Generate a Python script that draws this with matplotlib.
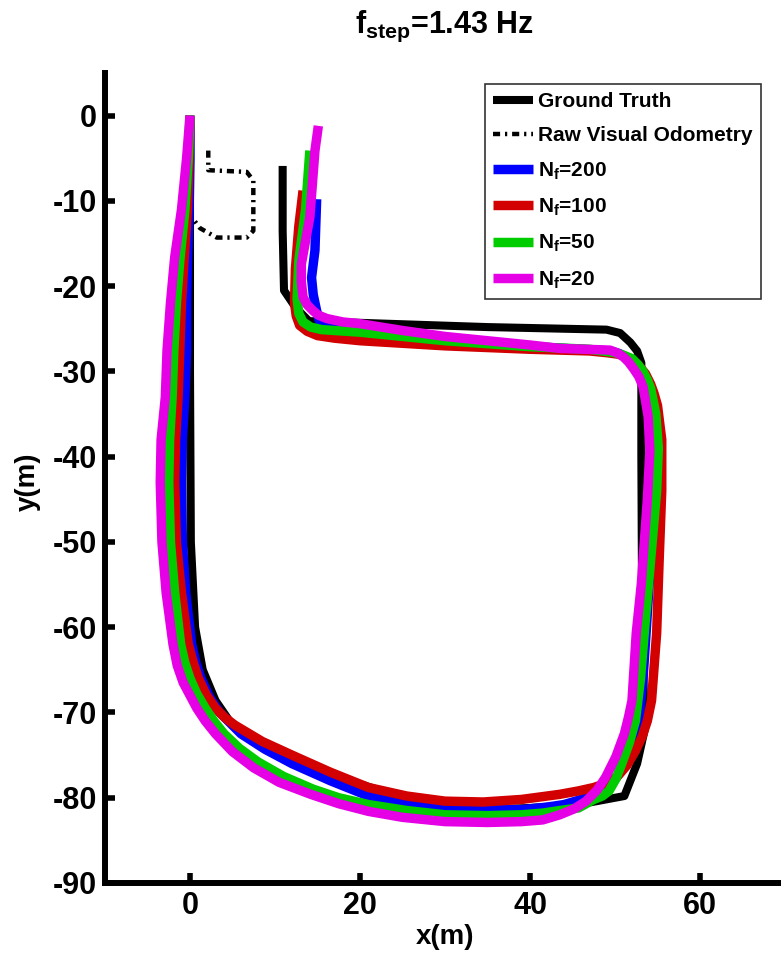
import matplotlib
matplotlib.use("Agg")
import matplotlib.pyplot as plt

plt.rcParams['font.family'] = ['Liberation Sans', 'DejaVu Sans']
plt.rcParams['font.weight'] = 'bold'
plt.rcParams['axes.unicode_minus'] = False
plt.rcParams['mathtext.fontset'] = 'custom'
plt.rcParams['mathtext.rm'] = 'Liberation Sans:bold'
plt.rcParams['mathtext.it'] = 'Liberation Sans:bold'
plt.rcParams['mathtext.bf'] = 'Liberation Sans:bold'

# ---------------- data ----------------
gt_x = [0, 0, 0.1, 0.6, 1.5, 3, 5, 7.5, 10.5, 14.2, 20, 25, 29, 34.5, 40, 45.7, 51.1, 52.6, 53.5,
        53.2, 53.1, 53.1, 52.6, 51.8, 50.6, 49, 35, 20, 14, 13.1, 12.15, 11.06, 10.9, 10.9]
gt_y = [0, -30, -50, -60, -65, -68.6, -71.5, -73.3, -75, -76.6, -78.4, -80, -81, -81.4, -81.2, -80.8,
        -79.8, -76, -72, -60, -40, -29, -27.6, -26.6, -25.5, -25.1, -24.8, -24.3, -24.1, -23.2, -22.1,
        -20.5, -13.5, -5.9]

vo_x = [2.15, 2.15, 6.67, 7.45, 7.45, 6.67, 3.14, 1.18, 0.2]
vo_y = [-4.1, -6.4, -6.6, -7.6, -13.5, -14.3, -14.3, -13.2, -11.9]

nf200_x = [0, 0, -0.1, -0.3, -0.4, -0.4, -0.6, -0.9, -1, -0.9, -0.5, 0.2, 0.7, 1.3, 2.3, 3.5, 6,
           8.8, 12, 16.5, 21, 25.5, 30, 35, 39, 42, 44, 45.7, 47, 48.4, 49.5, 50.6, 51.5, 52.3, 52.8,
           53.3, 53.7, 54.2, 54.8, 55, 54.6, 54, 53.5, 53, 52.3, 51.5, 50.5, 49.5, 44, 35, 28, 20,
           17.5, 16, 15.2, 14.9, 14.5, 14.3, 14.7, 14.9]
nf200_y = [0, -5, -11, -17, -22, -27.5, -33, -38, -43, -50, -56, -62, -64.2, -66, -68.2, -70, -72.5,
           -74.3, -76, -78, -79.8, -80.6, -81.2, -81.4, -81.4, -81.1, -80.8, -80.3, -79.8, -79.2,
           -78.5, -77, -75, -73, -71, -66, -60, -52, -44, -39, -35, -32, -31, -30, -29.1, -28.4,
           -27.9, -27.6, -27.3, -26.8, -26.2, -25.3, -24.9, -24.6, -24, -22.9, -21, -19, -15.8, -9.8]

nf100_x = [0, -0.1, -0.3, -0.7, -1, -1.2, -1.4, -1.7, -1.8, -1.6, -1, -0.2, 0.4, 1, 1.9, 3, 4.1,
           5.3, 8.5, 12, 16.5, 21, 25.5, 30, 34.5, 39, 43.5, 45.7, 47.5, 49, 50.2, 51.4, 52.4, 53.2,
           53.8, 54.3, 54.9, 55.2, 55.5, 55.5, 55, 54.6, 54.2, 53.6, 52.8, 51.8, 50.5, 49, 47, 40,
           30, 20, 17, 15, 13.8, 12.9, 12.5, 12.3, 12.4, 12.8, 13.3]
nf100_y = [0, -5, -11, -17, -22, -27.5, -33, -38, -43, -50, -56, -62, -64.2, -66, -67.9, -69.5,
           -70.6, -71.5, -73.4, -75, -77, -78.8, -79.8, -80.4, -80.5, -80.2, -79.6, -79.2, -78.8,
           -78.3, -77.6, -76.2, -74.5, -72.8, -71, -68.6, -60.7, -52, -44, -38, -34, -32.6, -31.5,
           -30.3, -29.3, -28.5, -28, -27.8, -27.6, -27.4, -27, -26.4, -26.1, -25.8, -25.3, -24.6,
           -23.5, -22, -18, -13, -8.8]

nf50_x = [0, -0.2, -0.6, -1.2, -1.6, -1.9, -2.1, -2.4, -2.5, -2.3, -1.8, -1.1, -0.6, 0, 0.8, 1.8,
          2.8, 4, 5.8, 8, 11, 14.5, 17.5, 21, 25.5, 30, 35, 39, 41.5, 43.5, 45.7, 47.5, 48.5, 49.3,
          50.1, 50.8, 51.7, 52.4, 53, 53.5, 54.2, 54.9, 55.1, 54.8, 54.2, 53.8, 53.3, 52.7, 52, 51,
          50, 47, 40, 30, 20, 17, 15.5, 14.2, 13.3, 12.8, 12.6, 12.8, 13.6, 14.1]
nf50_y = [0, -5, -11, -17, -22, -27.5, -33, -38, -43, -50, -56, -62, -64.2, -66, -67.8, -69.5, -71,
          -72.5, -74.2, -75.8, -77.5, -79, -80, -80.8, -81.5, -82, -82.1, -82, -81.8, -81.5, -81.2,
          -80.2, -79.8, -79.2, -77.8, -76, -73.5, -71, -66, -60, -52, -44, -39, -35, -32, -31,
          -30, -29.2, -28.5, -28.1, -27.8, -27.4, -27.1, -26.4, -25.4, -25.2, -25.1, -24.8, -24.2,
          -23.2, -21.5, -17, -11, -4.1]

nf20_x = [0, -0.4, -1, -1.8, -2.3, -2.7, -2.9, -3.4, -3.5, -3.3, -2.8, -2, -1.5, -0.8, 0, 0.8,
          1.8, 3, 5, 7.5, 10.5, 14.2, 17.5, 21, 25, 30, 35, 39, 41.5, 43.5, 45.2, 46.6, 47.9, 48.9,
          50.1, 51.1, 51.6, 52, 52.5, 53.1, 53.8, 54.1, 53.9, 53.6, 53.3, 52.8, 52.2, 51.6, 51, 50.2,
          49.4, 43.5, 40, 35, 30, 25, 20, 18, 16.1, 15.1, 14.5, 13.8, 13.3, 13.1, 13.1, 14.1,
          14.7, 15.1]
nf20_y = [0, -5, -11, -16.6, -22, -27.5, -33, -38, -43, -50, -56, -62, -64.5, -66.5, -68, -69.5,
          -71, -72.5, -74.6, -76.5, -78.2, -79.6, -80.7, -81.6, -82.3, -82.8, -82.9, -82.8, -82.6,
          -82, -81.3, -80.4, -79.1, -77.6, -75.2, -72.5, -70.5, -68.6, -60.7, -54.9, -45.1, -39.3,
          -35.3, -33.5, -31.8, -30.6, -29.7, -28.9, -28.3, -27.8, -27.5, -27.3, -26.9, -26.4,
          -25.9, -25.2, -24.4, -24.2, -23.8, -23.4, -22.9, -22.2, -21.3, -19.5, -17.4, -11.9,
          -4.1, -1.2]

labels = ['Ground Truth', 'Raw Visual Odometry', r'N$_\mathrm{f}$=200', r'N$_\mathrm{f}$=100',
          r'N$_\mathrm{f}$=50', r'N$_\mathrm{f}$=20']
title = r'f$_\mathrm{step}$=1.43 Hz'
xticks = [0, 20, 40, 60]
yticks = [0, -10, -20, -30, -40, -50, -60, -70, -80, -90]

# ---------------- figure ----------------
W, H = 781, 958
fig = plt.figure(figsize=(W / 100, H / 100), dpi=100)
ax = fig.add_axes([105 / W, 1 - 883 / H, (W - 105) / W, (883 - 73) / H])

kw = dict(solid_capstyle='butt', solid_joinstyle='round')
ax.plot(gt_x, gt_y, color='black', lw=5.8, label=labels[0], **kw)
ax.plot(vo_x, vo_y, color='black', lw=3.2, linestyle=(0, (1.6, 1.1, 0.5, 1.1)),
        label=labels[1], dash_capstyle='butt', dash_joinstyle='round')
ax.plot(nf200_x, nf200_y, color='#0000ff', lw=6.8, label=labels[2], **kw)
ax.plot(nf100_x, nf100_y, color='#d20000', lw=6.8, label=labels[3], **kw)
ax.plot(nf50_x, nf50_y, color='#00cc00', lw=6.8, label=labels[4], **kw)
ax.plot(nf20_x, nf20_y, color='#e600e6', lw=6.8, label=labels[5], **kw)

ax.set_xlim(-10, (W - 190) / 8.5)
ax.set_ylim(-90, 5)
ax.set_xticks(xticks)
ax.set_yticks(yticks)
for s in ['top', 'right']:
    ax.spines[s].set_visible(False)
for s in ['left', 'bottom']:
    ax.spines[s].set_linewidth(4.3)
ax.tick_params(direction='in', length=7, width=4, labelsize=22, pad=6)
for lab in ax.get_xticklabels() + ax.get_yticklabels():
    lab.set_fontweight('bold')

fig.text(445 / W, 1 - 937 / H, 'x(m)', ha='center', va='center', fontsize=20, fontweight='bold')
fig.text(28 / W, 1 - 482 / H, 'y(m)', ha='center', va='center', rotation=90, fontsize=20,
         fontweight='bold')
fig.text(445 / W, 1 - 26 / H, title, ha='center', va='center', fontsize=22, fontweight='bold')

leg = ax.legend(loc='upper right', bbox_to_anchor=(761 / W, 1 - 84 / H),
                bbox_transform=fig.transFigure, fontsize=15, frameon=True, fancybox=False,
                handlelength=1.9, handletextpad=0.25, borderpad=0.4, labelspacing=0.72,
                borderaxespad=0)
leg.get_frame().set_edgecolor('black')
leg.get_frame().set_linewidth(1.2)
for t in leg.get_texts():
    t.set_fontweight('bold')

fig.savefig('out.png', dpi=100)
